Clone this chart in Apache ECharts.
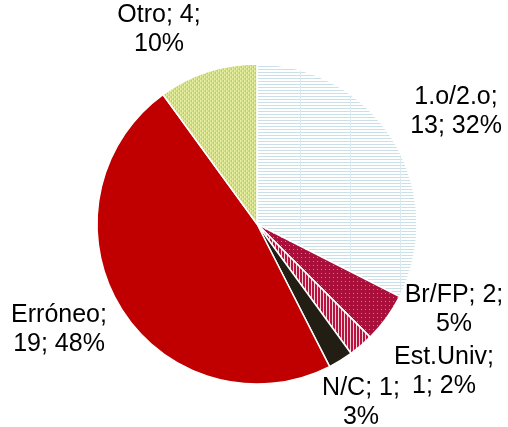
<!DOCTYPE html>
<html>
<head>
<meta charset="utf-8">
<script src="https://cdn.jsdelivr.net/npm/echarts@6/dist/echarts.min.js"></script>
<style>
  html, body { margin: 0; padding: 0; background: #fff; }
  #chart { width: 508px; height: 427px; }
</style>
</head>
<body>
<div id="chart"></div>
<script>
const names = ["1.o/2.o", "Br/FP", "Est.Univ", "N/C", "Erróneo", "Otro"];
const counts = [13, 2, 1, 1, 19, 4];
const percents = [32, 5, 2, 3, 48, 10];

// small canvases used as fill patterns
const makePattern = (w, h, draw) => {
  const c = document.createElement("canvas");
  c.width = w;
  c.height = h;
  const ctx = c.getContext("2d");
  draw(ctx);
  return { image: c, repeat: "repeat" };
};

const linesFill = makePattern(50, 3, (ctx) => {
  ctx.fillStyle = "#ffffff";
  ctx.fillRect(0, 0, 50, 3);
  ctx.fillStyle = "#c9e0e8";
  ctx.fillRect(0, 0, 50, 1);
  ctx.fillStyle = "#dbeaf0";
  ctx.fillRect(0, 0, 1, 3);
});

const dotsFill = makePattern(4, 4, (ctx) => {
  ctx.fillStyle = "#a90f3a";
  ctx.fillRect(0, 0, 4, 4);
  ctx.fillStyle = "#d9738e";
  ctx.fillRect(1, 1, 1, 1);
});

const stripeFill = makePattern(3, 3, (ctx) => {
  ctx.fillStyle = "#f3d3da";
  ctx.fillRect(0, 0, 3, 3);
  ctx.fillStyle = "#b8143f";
  ctx.fillRect(0, 0, 2, 3);
});

const greenFill = makePattern(4, 4, (ctx) => {
  ctx.fillStyle = "#cfe092";
  ctx.fillRect(0, 0, 4, 4);
  ctx.fillStyle = "#ecef9e";
  ctx.fillRect(0, 0, 1, 2);
  ctx.fillRect(2, 2, 1, 2);
  ctx.fillStyle = "#b4cf78";
  ctx.fillRect(1, 2, 1, 2);
  ctx.fillRect(3, 0, 1, 2);
});

const fills = [linesFill, dotsFill, stripeFill, "#231e14", "#c00000", greenFill];
// where each label's centre sits on the page
const labelSpots = [[456, 112], [454, 310], [444, 372], [361, 403], [59, 330], [159, 30]];

const chart = echarts.init(document.getElementById("chart"));
chart.setOption({
  animation: false,
  series: [
    {
      type: "pie",
      center: [257, 224],
      radius: [0, 160],
      startAngle: 90,
      clockwise: true,
      data: names.map((n, i) => ({
        name: n,
        value: counts[i],
        itemStyle: { color: fills[i] },
      })),
      itemStyle: { borderColor: "#fff", borderWidth: 1.5 },
      label: {
        show: true,
        position: "outside",
        overflow: "none",
        formatter: (p) => {
          const i = p.dataIndex;
          if (i === 0 || i === 2 || i === 4) {
            return names[i] + ";\n" + counts[i] + "; " + percents[i] + "%";
          }
          return names[i] + "; " + counts[i] + ";\n" + percents[i] + "%";
        },
        fontFamily: "Liberation Sans, Arial, sans-serif",
        fontSize: 25,
        lineHeight: 29,
        color: "#000",
      },
      labelLine: { show: false },
      labelLayout: (p) => ({
        x: labelSpots[p.dataIndex][0],
        y: labelSpots[p.dataIndex][1],
        align: "center",
        verticalAlign: "middle",
      }),
    },
  ],
});
</script>
</body>
</html>
